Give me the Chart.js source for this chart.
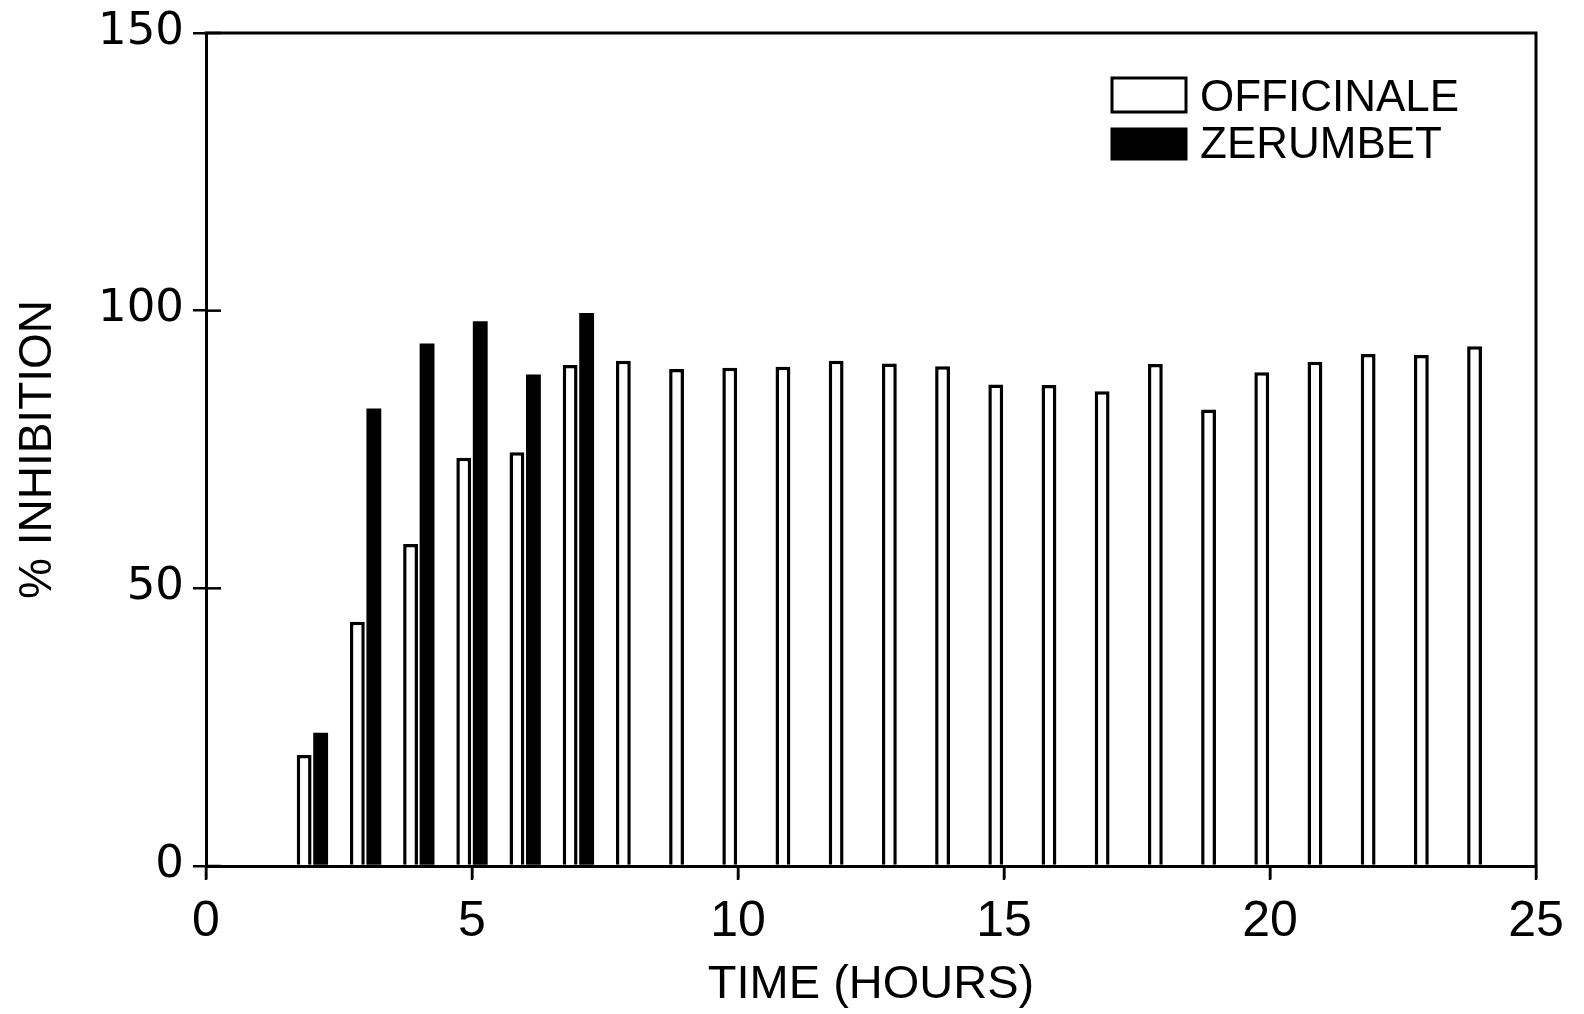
<!DOCTYPE html>
<html>
<head>
<meta charset="utf-8">
<style>
  html, body { margin: 0; padding: 0; background: #fff; }
  canvas { display: block; }
</style>
<script src="https://cdn.jsdelivr.net/npm/chart.js@4/dist/chart.umd.min.js"></script>
</head>
<body>
<canvas id="myChart" width="1584" height="1014"></canvas>
<script>
// hours sampled
const hoursOfficinale = [2, 3, 4, 5, 6, 7, 8, 9, 10, 11, 12, 13, 14, 15, 16, 17, 18, 19, 20, 21, 22, 23, 24];
const officinale = [20, 44, 58, 73.5, 74.5, 90.2, 91, 89.5, 89.7, 89.9, 91, 90.5, 90, 86.7, 86.6, 85.5, 90.4, 82.2, 88.9, 90.8, 92.2, 92, 93.6];
const hoursZerumbet = [2, 3, 4, 5, 6, 7];
const zerumbet = [24, 82.4, 94.1, 98.1, 88.5, 99.6];
const xTicks = [0, 5, 10, 15, 20, 25];
const yTicks = [0, 50, 100, 150];

Chart.defaults.color = "#000";

const toPoints = (xs, ys) => xs.map((x, i) => ({ x: x, y: ys[i] }));

// top + right lines of the box, inner half of the y ticks, x tick marks
const framePlugin = {
    id: "frame",
    afterDraw(chart) {
        const { ctx, chartArea: a } = chart;
        const { x, y } = chart.scales;
        ctx.save();
        ctx.strokeStyle = "#000";
        ctx.lineWidth = 3;
        ctx.beginPath();
        ctx.moveTo(a.left - 1.5, a.top);
        ctx.lineTo(a.right, a.top);
        ctx.lineTo(a.right, a.bottom);
        ctx.stroke();
        ctx.lineWidth = 2.5;
        yTicks.forEach((v) => {
            const py = y.getPixelForValue(v);
            ctx.beginPath();
            ctx.moveTo(a.left, py);
            ctx.lineTo(a.left + 15, py);
            ctx.stroke();
        });
        xTicks.forEach((v) => {
            const px = x.getPixelForValue(v);
            ctx.beginPath();
            ctx.moveTo(px, a.bottom);
            ctx.lineTo(px, a.bottom + 14);
            ctx.stroke();
        });
        ctx.restore();
    },
};

// legend box in the upper right corner
const legendPlugin = {
    id: "boxLegend",
    afterDraw(chart) {
        const { ctx } = chart;
        const rows = [
            { top: 78, h: 34 },
            { top: 129, h: 30 },
        ];
        ctx.save();
        ctx.font = "44px 'Liberation Sans', Arial, sans-serif";
        ctx.textBaseline = "alphabetic";
        ctx.textAlign = "left";
        chart.data.datasets.forEach((ds, i) => {
            const r = rows[i];
            ctx.fillStyle = ds.backgroundColor;
            ctx.fillRect(1112, r.top, 74, r.h);
            ctx.strokeStyle = "#000";
            ctx.lineWidth = 3;
            ctx.strokeRect(1112, r.top, 74, r.h);
            ctx.fillStyle = "#000";
            ctx.fillText(ds.label, 1200, r.top + r.h - 1);
        });
        ctx.restore();
    },
};

const ctx = document.getElementById("myChart").getContext("2d");
const myChart = new Chart(ctx, {
    type: "bar",
    data: {
        datasets: [
            {
                label: "OFFICINALE",
                data: toPoints(hoursOfficinale, officinale),
                backgroundColor: "#fff",
                borderColor: "#000",
                borderWidth: 3.5,
            },
            {
                label: "ZERUMBET",
                data: toPoints(hoursZerumbet, zerumbet),
                backgroundColor: "#000",
                borderColor: "#000",
                borderWidth: 0,
            },
        ],
    },
    options: {
        responsive: false,
        animation: false,
        categoryPercentage: 0.62,
        barPercentage: 0.9,
        layout: {
            padding: { left: 0, right: 48, top: 33, bottom: 0 },
        },
        plugins: {
            legend: { display: false },
            tooltip: { enabled: false },
        },
        scales: {
            x: {
                type: "linear",
                offset: false,
                min: 0,
                max: 25,
                afterBuildTicks: (scale) => {
                    scale.ticks = xTicks.map((v) => ({ value: v }));
                },
                afterFit: (scale) => {
                    scale.height = 148;
                },
                grid: {
                    offset: false,
                    drawOnChartArea: false,
                    drawTicks: true,
                    tickLength: 13,
                    lineWidth: 2.5,
                    color: "#000",
                },
                border: { display: true, width: 3, color: "#000" },
                ticks: {
                    padding: 13,
                    maxRotation: 0,
                    font: { family: "'Liberation Sans', Arial, sans-serif", size: 50 },
                },
                title: {
                    display: true,
                    text: "TIME (HOURS)",
                    font: { family: "'Liberation Sans', Arial, sans-serif", size: 47, lineHeight: 1 },
                    padding: { top: 0, bottom: 5 },
                },
            },
            y: {
                min: 0,
                max: 150,
                afterBuildTicks: (scale) => {
                    scale.ticks = yTicks.map((v) => ({ value: v }));
                },
                afterFit: (scale) => {
                    scale.width = 206;
                },
                grid: {
                    drawOnChartArea: false,
                    drawTicks: true,
                    tickLength: 13,
                    lineWidth: 2.5,
                    color: "#000",
                },
                border: { display: true, width: 3, color: "#000" },
                ticks: {
                    padding: 9,
                    labelOffset: -1,
                    font: { family: "'DejaVu Sans', sans-serif", size: 45, lineHeight: 1 },
                },
                title: {
                    display: true,
                    text: "% INHIBITION",
                    font: { family: "'Liberation Sans', Arial, sans-serif", size: 46, lineHeight: 1 },
                    padding: { top: 15, bottom: 0 },
                },
            },
        },
    },
    plugins: [framePlugin, legendPlugin],
});
</script>
</body>
</html>
